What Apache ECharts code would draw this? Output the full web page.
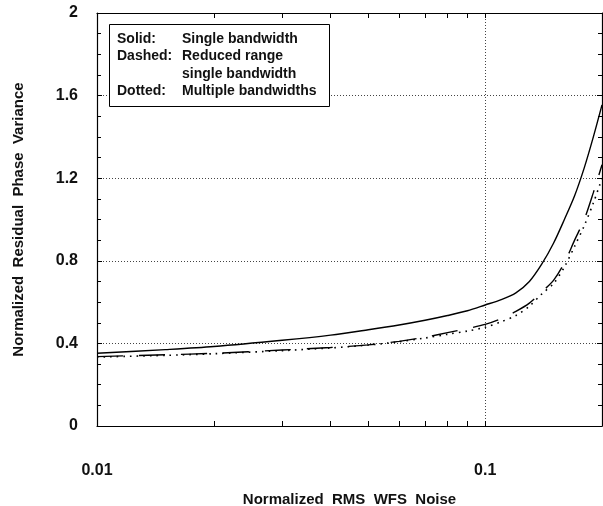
<!DOCTYPE html>
<html>
<head>
<meta charset="utf-8">
<script src="https://cdn.jsdelivr.net/npm/echarts@6/dist/echarts.min.js"></script>
<style>
  html, body { margin: 0; padding: 0; background: #fff; }
  #chart { width: 603px; height: 506px; }
</style>
</head>
<body>
<div id="chart"></div>
<script>
// normalized RMS WFS noise (x, log axis)
var noise = [0.01, 0.015, 0.02, 0.03, 0.04, 0.05, 0.06, 0.07, 0.08, 0.09, 0.1,
             0.11, 0.12, 0.13, 0.14, 0.15, 0.16, 0.17, 0.18, 0.19, 0.2];
// normalized residual phase variance
var solid  = [0.352, 0.370, 0.385, 0.415, 0.440, 0.466, 0.489, 0.512, 0.535, 0.558, 0.586,
              0.612, 0.645, 0.700, 0.785, 0.885, 1.000, 1.115, 1.250, 1.400, 1.555];
var dashed = [0.336, 0.345, 0.352, 0.368, 0.380, 0.393, 0.410, 0.430, 0.452, 0.472, 0.492,
              0.520, 0.555, 0.595, 0.650, 0.705, 0.790, 0.900, 1.000, 1.130, 1.265];
var dotted = [0.334, 0.342, 0.350, 0.365, 0.378, 0.392, 0.408, 0.426, 0.444, 0.460, 0.478,
              0.505, 0.535, 0.580, 0.640, 0.690, 0.770, 0.870, 0.970, 1.080, 1.200];
// tick positions
var xTicks = [0.01, 0.02, 0.03, 0.04, 0.05, 0.06, 0.07, 0.08, 0.09, 0.1, 0.2];
var xLabels = [0.01, 0.1];

var font = '"Liberation Sans", Arial, sans-serif';

function pairs(ys) {
  return noise.map(function (x, i) { return [x, ys[i]]; });
}

var chart = echarts.init(document.getElementById('chart'));

var gridDots = { color: '#444', type: [1, 2], width: 1 };
var frame = { show: true, onZero: false, lineStyle: { color: '#000', width: 1.2 } };

var option = {
  backgroundColor: '#fff',
  animation: false,
  title: {
    left: 109,
    top: 22,
    backgroundColor: '#fff',
    borderColor: '#000',
    borderWidth: 1,
    padding: [8, 13, 8, 8],
    text: [
      '{a|Solid:}{b|Single bandwidth}',
      '{a|Dashed:}{b|Reduced range}',
      '{a|}{b|single bandwidth}',
      '{a|Dotted:}{b|Multiple bandwidths}'
    ].join('\n'),
    textStyle: {
      rich: {
        a: { width: 65, fontSize: 14, fontWeight: 'bold', fontFamily: font, color: '#111', lineHeight: 17.5 },
        b: { fontSize: 14, fontWeight: 'bold', fontFamily: font, color: '#111', lineHeight: 17.5 }
      }
    }
  },
  grid: { left: 97, right: 1, top: 13, bottom: 80, outerBoundsMode: 'none' },
  xAxis: [
    {
      type: 'log',
      logBase: 10,
      min: 0.01,
      max: 0.2,
      position: 'bottom',
      name: 'Normalized  RMS  WFS  Noise',
      nameLocation: 'middle',
      nameGap: 66,
      nameTextStyle: { fontFamily: font, fontWeight: 'bold', fontSize: 15, color: '#111' },
      axisLine: frame,
      axisTick: { show: true, inside: true, length: 5, customValues: xTicks, lineStyle: { color: '#000' } },
      axisLabel: {
        customValues: xLabels,
        margin: 37,
        fontFamily: font, fontWeight: 'bold', fontSize: 16, color: '#111',
        formatter: function (v) { return String(v); }
      },
      splitLine: { show: false }
    },
    {
      type: 'log',
      logBase: 10,
      min: 0.01,
      max: 0.2,
      position: 'top',
      axisLine: frame,
      axisTick: { show: true, inside: true, length: 5, customValues: xTicks, lineStyle: { color: '#000' } },
      axisLabel: { show: false },
      splitLine: { show: false }
    },
    {
      // only carries the dotted grid line at each decade
      type: 'log',
      logBase: 10,
      min: 0.01,
      max: 0.2,
      position: 'bottom',
      axisLine: { show: false },
      axisTick: { show: false },
      axisLabel: { show: false },
      splitLine: { show: true, lineStyle: gridDots }
    }
  ],
  yAxis: [
    {
      type: 'value',
      min: 0,
      max: 2,
      interval: 0.4,
      position: 'left',
      name: 'Normalized  Residual  Phase  Variance',
      nameLocation: 'middle',
      nameGap: 71,
      nameTextStyle: { fontFamily: font, fontWeight: 'bold', fontSize: 15, color: '#111' },
      axisLine: frame,
      axisTick: { show: true, inside: true, length: 5, lineStyle: { color: '#000' } },
      minorTick: { show: true, splitNumber: 4, length: 4, lineStyle: { color: '#000' } },
      axisLabel: {
        margin: 19,
        padding: [6, 0, 0, 0],
        fontFamily: font, fontWeight: 'bold', fontSize: 16, color: '#111',
        formatter: function (v) { return String(+v.toFixed(1)); }
      },
      splitLine: { show: true, lineStyle: gridDots }
    },
    {
      type: 'value',
      min: 0,
      max: 2,
      interval: 0.4,
      position: 'right',
      axisLine: frame,
      axisTick: { show: true, inside: true, length: 5, lineStyle: { color: '#000' } },
      minorTick: { show: true, splitNumber: 4, length: 4, lineStyle: { color: '#000' } },
      axisLabel: { show: false },
      splitLine: { show: false }
    }
  ],
  series: [
    {
      name: 'Solid',
      type: 'line',
      smooth: 0.3,
      symbol: 'none',
      data: pairs(solid),
      lineStyle: { color: '#000', width: 1.4, type: 'solid' }
    },
    {
      name: 'Dashed',
      type: 'line',
      smooth: 0.3,
      symbol: 'none',
      data: pairs(dashed),
      lineStyle: { color: '#000', width: 1.4, type: [26, 16] }
    },
    {
      name: 'Dotted',
      type: 'line',
      smooth: 0.3,
      symbol: 'none',
      data: pairs(dotted),
      lineStyle: { color: '#000', width: 1.6, type: [1.6, 5] }
    }
  ]
};

chart.setOption(option);
</script>
</body>
</html>
